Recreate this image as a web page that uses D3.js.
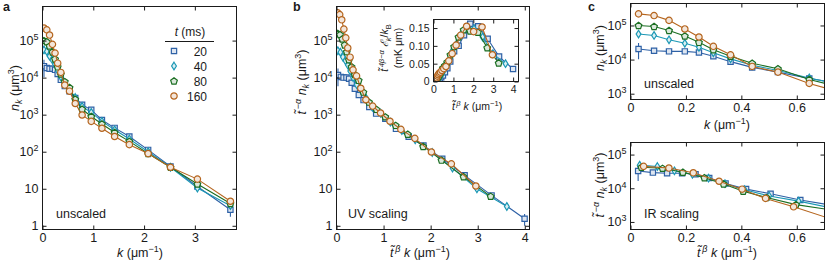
<!DOCTYPE html>
<html>
<head>
<meta charset="utf-8">
<script src="https://cdn.jsdelivr.net/npm/d3@7"></script>
<style>
body { margin: 0; background: #fff; }
svg { display: block; }
text { font-family: "Liberation Sans", Arial, Helvetica, sans-serif; fill: #1a1a1a; }
</style>
</head>
<body>
<svg id="fig" width="830" height="264"></svg>
<script>
//***************************************************************************
// data

var times = ["20", "40", "80", "160"];

// momentum grid, um^-1
var kVals = [0.029, 0.085, 0.139, 0.196, 0.247, 0.299, 0.361, 0.439, 0.532, 0.645,
             0.78, 0.96, 1.17, 1.42, 1.71, 2.08, 2.52, 3.05, 3.7];

// n_k (um^3), unscaled
var n20  = [20400, 18200, 17400, 17400, 16200, 12600, 8700, 5900, 4300, 2800,
            1860, 1350, 720, 440, 257, 112, 40, 11.5, 2.7];
var n40  = [56000, 51000, 38000, 30000, 23000, 15800, 10500, 6800, 4800, 2900,
            1660, 1150, 660, 390, 220, 100, 38, 10.5, 3.5];
var n80  = [100000, 93000, 71000, 49000, 32000, 19500, 12600, 7800, 5400, 2600,
            1400, 890, 560, 330, 190, 89, 38, 13.5, 4.0];
var n160 = [219000, 195000, 141000, 79000, 46000, 24500, 13800, 6300, 4300, 2000,
            980, 660, 430, 257, 155, 89, 38, 18.2, 4.6];

// relative errors
var err20  = [0.5, 0.15, 0.06, 0.06, 0.06, 0.06, 0.06, 0.06, 0.06, 0.06,
              0.06, 0.06, 0.06, 0.06, 0.06, 0.08, 0.1, 0.15, 0.35];
var err40  = [0.2, 0.08, 0.05, 0.05, 0.05, 0.05, 0.05, 0.05, 0.05, 0.05,
              0.05, 0.05, 0.05, 0.05, 0.05, 0.06, 0.08, 0.12, 0.2];
var err80  = [0.1, 0.05, 0.05, 0.05, 0.05, 0.05, 0.05, 0.05, 0.05, 0.05,
              0.05, 0.05, 0.05, 0.05, 0.05, 0.05, 0.06, 0.08, 0.12];
var err160 = [0.08, 0.05, 0.05, 0.05, 0.05, 0.05, 0.05, 0.05, 0.05, 0.05,
              0.05, 0.05, 0.05, 0.05, 0.05, 0.05, 0.05, 0.06, 0.1];

// scaling factors t~^beta (x) and t~^-alpha (y) per series
var uvX = [1.08, 0.978, 0.885, 0.80];
var uvY = [0.575, 0.95, 1.56, 2.58];
var irX = [0.95, 1.14, 1.36, 1.63];
var irY = [1.6, 0.865, 0.42, 0.204];

// inset: scaled energy spectrum (mK um)
var eps20  = [0, 0, 0.001, 0.002, 0.005, 0.008, 0.012, 0.017, 0.026, 0.037,
              0.056, 0.085, 0.10, 0.13, 0.162, 0.155, 0.12, 0.07, 0.035];
var eps40  = [0, 0, 0.001, 0.004, 0.008, 0.011, 0.016, 0.021, 0.031, 0.043,
              0.057, 0.085, 0.104, 0.133, 0.152, 0.148, 0.125, 0.078, 0.05];
var eps80  = [0, 0, 0.003, 0.007, 0.012, 0.015, 0.021, 0.027, 0.038, 0.045,
              0.055, 0.075, 0.098, 0.125, 0.145, 0.142, 0.138, 0.095, 0.052];
var eps160 = [0, 0.001, 0.005, 0.010, 0.015, 0.019, 0.023, 0.026, 0.031, 0.036,
              0.042, 0.058, 0.078, 0.102, 0.13, 0.155, 0.14, 0.153, 0.075];

var nAll = [n20, n40, n80, n160];
var errAll = [err20, err40, err80, err160];
var epsAll = [eps20, eps40, eps80, eps160];

//***************************************************************************
// styles

var colors = ["#2e61a6", "#1c98b5", "#1b6e22", "#b5651e"];
var FS = 12.5;
var svg = d3.select("#fig");
var clipId = 0;

function markerPath(i) {
	if (i === 0) return d3.symbol(d3.symbolSquare, 28)();
	if (i === 1) return "M0,-3.8L2.4,0L0,3.8L-2.4,0Z";
	if (i === 2) {
		var p = d3.range(5).map(function(j) {
			var a = -Math.PI / 2 + j * 2 * Math.PI / 5;
			return [3.5 * Math.cos(a), 3.5 * Math.sin(a) + 0.3];
		});
		return "M" + p.join("L") + "Z";
	}
	return d3.symbol(d3.symbolCircle, 32)();
}

function lighter(c) { return d3.interpolateRgb(c, "#ffffff")(0.84); }

// text with italic / sub / sup parts
function rich(parent, parts, size) {
	var t = parent.append("text").attr("font-size", size);
	var shift = 0;
	parts.forEach(function(p) {
		var ts = t.append("tspan").text(p.t);
		if (p.i) ts.attr("font-style", "italic");
		var target = p.sup ? -0.4 * size : (p.sub ? 0.25 * size : 0);
		if (target !== shift) { ts.attr("dy", target - shift); shift = target; }
		if (p.sup || p.sub) ts.attr("font-size", size * 0.72);
	});
	return t;
}

var tt = "t\u0303";
var umInv = [{t: " (\u03bcm"}, {t: "\u22121", sup: true}, {t: ")"}];
var um3 = [{t: " (\u03bcm"}, {t: "3", sup: true}, {t: ")"}];
var labNk = [{t: "n", i: true}, {t: "k", i: true, sub: true}].concat(um3);
var labScaledNk = [{t: tt, i: true}, {t: "\u2009\u2212\u03b1", i: true, sup: true}, {t: " "},
                   {t: "n", i: true}, {t: "k", i: true, sub: true}].concat(um3);
var labK = [{t: "k", i: true}].concat(umInv);
var labScaledK = [{t: tt, i: true}, {t: "\u2009\u03b2", i: true, sup: true}, {t: " "}, {t: "k", i: true}].concat(umInv);

//***************************************************************************
// one axes box

function panel(cfg) {
	var g = svg.append("g");
	var x = d3.scaleLinear().domain(cfg.xd).range([cfg.l, cfg.r]);
	var y = (cfg.log ? d3.scaleLog() : d3.scaleLinear()).domain(cfg.yd).range([cfg.b, cfg.t]);
	var fs = cfg.fs || FS;

	if (cfg.bg) {
		g.append("rect").attr("x", cfg.l).attr("y", cfg.t)
			.attr("width", cfg.r - cfg.l).attr("height", cfg.b - cfg.t).attr("fill", "#fff");
	}

	var id = "clip" + (clipId++);
	g.append("clipPath").attr("id", id).append("rect")
		.attr("x", cfg.l).attr("y", cfg.t).attr("width", cfg.r - cfg.l).attr("height", cfg.b - cfg.t);
	var plot = g.append("g").attr("clip-path", "url(#" + id + ")");

	cfg.series.forEach(function(s, si) {
		var pts = s.xs.map(function(v, j) { return {x: v, y: s.ys[j], e: s.es ? s.es[j] : 0}; });
		var sg = plot.append("g");
		sg.append("path").datum(pts)
			.attr("fill", "none").attr("stroke", colors[si]).attr("stroke-width", 1.1)
			.attr("d", d3.line().x(function(d) { return x(d.x); }).y(function(d) { return y(d.y); }));
		if (s.es) {
			sg.selectAll("line.err").data(pts).enter().append("line")
				.attr("x1", function(d) { return x(d.x); }).attr("x2", function(d) { return x(d.x); })
				.attr("y1", function(d) { return y(d.y * (1 + d.e)); })
				.attr("y2", function(d) { return y(Math.max(d.y * (1 - d.e), 1e-3)); })
				.attr("stroke", colors[si]).attr("stroke-width", 1.1);
		}
		sg.selectAll("path.mk").data(pts).enter().append("path")
			.attr("d", markerPath(si))
			.attr("transform", function(d) { return "translate(" + x(d.x) + "," + y(d.y) + ")"; })
			.attr("fill", lighter(colors[si])).attr("stroke", colors[si]).attr("stroke-width", 1.2);
	});

	// axes, ticks inside on all four sides
	var ax = [
		d3.axisBottom(x).tickValues(cfg.xt).tickFormat(cfg.xf),
		d3.axisTop(x).tickValues(cfg.xt).tickFormat(""),
		d3.axisLeft(y).tickValues(cfg.yt).tickFormat(cfg.yf || null),
		d3.axisRight(y).tickValues(cfg.yt).tickFormat("")
	];
	var pos = ["translate(0," + cfg.b + ")", "translate(0," + cfg.t + ")",
	           "translate(" + cfg.l + ",0)", "translate(" + cfg.r + ",0)"];
	ax.forEach(function(a, i) {
		var ag = g.append("g").attr("transform", pos[i])
			.call(a.tickSizeInner(-4).tickSizeOuter(0).tickPadding(4));
		ag.attr("font-size", fs).attr("font-family", null);
		ag.select(".domain").remove();
		ag.selectAll(".tick line").attr("stroke", "#1a1a1a");
		ag.selectAll(".tick text").attr("fill", null);
		if (i === 2 && cfg.log) {
			ag.selectAll(".tick text").each(function(d) {
				var e = Math.round(Math.log10(d));
				var t = d3.select(this).text(null);
				if (e <= 1) { t.text(e === 0 ? "1" : "10"); return; }
				t.append("tspan").text("10");
				t.append("tspan").attr("dy", -0.42 * fs).attr("font-size", fs * 0.72).text(e);
			});
		}
	});

	g.append("rect").attr("x", cfg.l).attr("y", cfg.t)
		.attr("width", cfg.r - cfg.l).attr("height", cfg.b - cfg.t)
		.attr("fill", "none").attr("stroke", "#1a1a1a").attr("stroke-width", 1);

	return {g: g, x: x, y: y};
}

function mapSeries(xf, yf, withErr) {
	return nAll.map(function(ns, si) {
		return {
			xs: kVals.map(function(k) { return k * (xf ? xf[si] : 1); }),
			ys: ns.map(function(n) { return n * (yf ? yf[si] : 1); }),
			es: withErr ? errAll[si] : null
		};
	});
}

function putLabel(parts, x, y, rot, size, anchor) {
	var t = rich(svg, parts, size || FS).attr("text-anchor", anchor || "middle");
	t.attr("transform", "translate(" + x + "," + y + ")" + (rot ? " rotate(-90)" : ""));
	return t;
}

var logTicksAB = [1, 10, 100, 1e3, 1e4, 1e5];
var logTicksC = [1e3, 1e4, 1e5];
var fmtC = function(d) { return d === 0 ? "0" : d3.format(".1f")(d); };

//***************************************************************************
// panel a

panel({
	l: 42.5, r: 236.5, t: 6.5, b: 229.5,
	xd: [0, 3.82], yd: [Math.pow(10, -0.1), Math.pow(10, 5.92)], log: true,
	xt: [0, 1, 2, 3], xf: d3.format("d"), yt: logTicksAB,
	series: mapSeries(null, null, true)
});
putLabel(labNk, 18.5, 88, true);
putLabel(labK, 140, 257);
putLabel([{t: "unscaled"}], 56, 218, false, FS, "start");

// legend
var leg = svg.append("g");
rich(leg, [{t: "t", i: true}, {t: " (ms)"}], 12).attr("x", 190).attr("y", 36).attr("text-anchor", "middle");
leg.append("line").attr("x1", 165).attr("x2", 214).attr("y1", 41.5).attr("y2", 41.5)
	.attr("stroke", "#1a1a1a").attr("stroke-width", 1);
times.forEach(function(tm, i) {
	var yy = 51 + i * 15;
	leg.append("path").attr("d", markerPath(i)).attr("transform", "translate(174," + yy + ")")
		.attr("fill", lighter(colors[i])).attr("stroke", colors[i]).attr("stroke-width", 1.2);
	leg.append("text").attr("x", 207).attr("y", yy + 4.5).attr("font-size", 12)
		.attr("text-anchor", "end").text(tm);
});
svg.append("text").attr("x", 3).attr("y", 11).attr("font-size", 12.5)
	.attr("font-weight", "bold").text("a");

//***************************************************************************
// panel b + inset

panel({
	l: 336.5, r: 529.5, t: 6.5, b: 229.5,
	xd: [0, 4.1], yd: [Math.pow(10, -0.1), Math.pow(10, 5.92)], log: true,
	xt: [0, 1, 2, 3, 4], xf: d3.format("d"), yt: logTicksAB,
	series: mapSeries(uvX, uvY, true)
});
putLabel(labScaledNk, 306, 82, true);
putLabel(labScaledK, 420, 257);
putLabel([{t: "UV scaling"}], 348, 218, false, FS, "start");
svg.append("text").attr("x", 293).attr("y", 11).attr("font-size", 12.5)
	.attr("font-weight", "bold").text("b");

panel({
	l: 433.5, r: 518.5, t: 19.5, b: 81.5, bg: true, fs: 10.5,
	xd: [0, 4.27], yd: [0, 0.174], log: false,
	xt: [0, 1, 2, 3, 4], xf: d3.format("d"),
	yt: [0, 0.05, 0.10, 0.15], yf: function(d) { return d === 0 ? "0" : d3.format(".2f")(d); },
	series: epsAll.map(function(es, si) {
		return {xs: kVals.map(function(k) { return k * uvX[si]; }), ys: es, es: null};
	})
});
putLabel(labScaledK, 477, 110, false, 10.5);
putLabel([{t: tt, i: true}, {t: "\u20094\u03b2\u2212\u03b1", i: true, sup: true}, {t: " "},
          {t: "\u2130", i: true}, {t: "k", i: true, sub: true}, {t: "/"},
          {t: "k", i: true}, {t: "B", sub: true}], 388, 48, true, 10.5);
putLabel([{t: "(mK \u03bcm)"}], 402, 48, true, 10.5);

//***************************************************************************
// panel c

panel({
	l: 630.5, r: 824.5, t: 3.5, b: 99.5,
	xd: [0, 0.7], yd: [Math.pow(10, 2.83), Math.pow(10, 5.644)], log: true,
	xt: [0, 0.2, 0.4, 0.6], xf: fmtC, yt: logTicksC,
	series: mapSeries(null, null, true)
});
putLabel(labNk, 604, 48, true);
putLabel(labK, 727, 129);
putLabel([{t: "unscaled"}], 644, 88, false, FS, "start");

panel({
	l: 630.5, r: 824.5, t: 142.5, b: 229.5,
	xd: [0, 0.7], yd: [Math.pow(10, 2.776), Math.pow(10, 5.358)], log: true,
	xt: [0, 0.2, 0.4, 0.6], xf: fmtC, yt: logTicksC,
	series: mapSeries(irX, irY, true)
});
putLabel(labScaledNk, 604, 185, true);
putLabel(labScaledK, 727, 257);
putLabel([{t: "IR scaling"}], 644, 218, false, FS, "start");
svg.append("text").attr("x", 588).attr("y", 11).attr("font-size", 12.5)
	.attr("font-weight", "bold").text("c");
</script>
</body>
</html>
